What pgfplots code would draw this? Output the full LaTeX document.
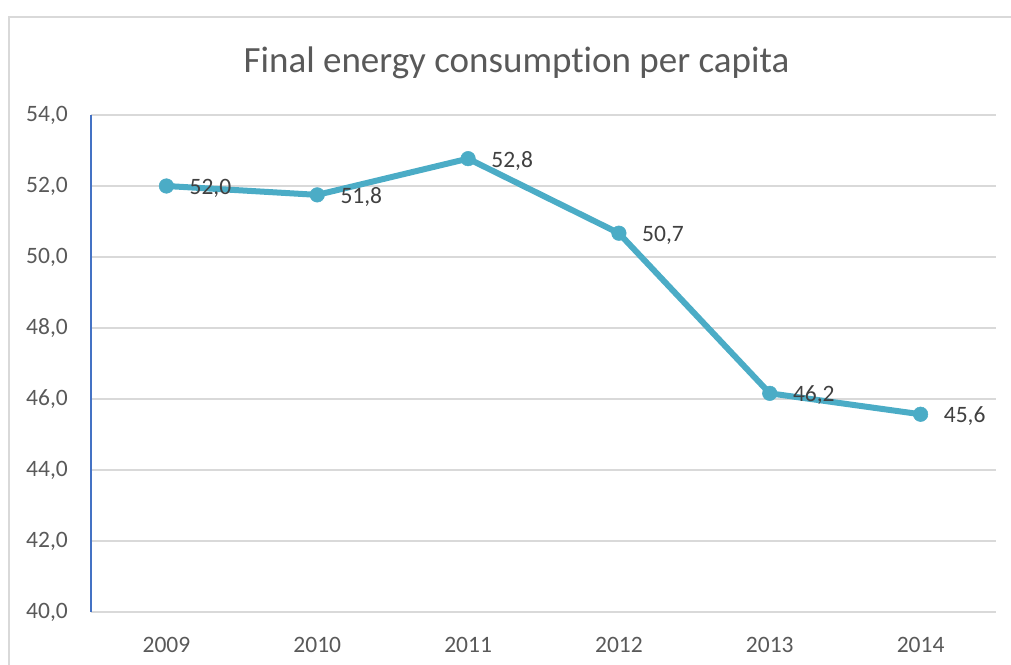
\documentclass[border=0pt]{standalone}
\usepackage{pgfplots}
\pgfplotsset{compat=1.18}
\usepackage{fontspec}
\setmainfont{Carlito}[Ligatures=CommonOff]
\definecolor{lineblue}{HTML}{4BACC6}
\definecolor{gridgray}{HTML}{D9D9D9}
\definecolor{axblue}{HTML}{4472C4}
\definecolor{ticktext}{HTML}{595959}
\definecolor{labeltext}{HTML}{404040}
\begin{document}
\begin{tikzpicture}[x=1pt,y=1pt]
\useasboundingbox (0,0) rectangle (1011,664);
\draw[gridgray, line width=1.3pt] (9,-20) rectangle (1030,647);
\node[anchor=base, font=\fontsize{37}{44}\selectfont, text=ticktext, inner sep=0pt] at (516.5,591.3) {Final energy consumption per capita};
\begin{axis}[
  at={(91pt,52pt)}, anchor=south west,
  width=905pt, height=497pt, scale only axis,
  xmin=-0.5, xmax=5.5, ymin=40, ymax=54,
  xtick={0,1,2,3,4,5}, xticklabels={2009,2010,2011,2012,2013,2014},
  ytick={40,42,44,46,48,50,52,54},
  ymajorgrids, grid style={gridgray, line width=1.3pt},
  major tick length=0pt,
  separate axis lines,
  axis x line*=bottom, axis y line*=left,
  x axis line style={draw=none},
  y axis line style={axblue, line width=1.3pt},
  tick label style={font=\fontsize{23.5}{28}\selectfont, text=ticktext},
  yticklabel style={anchor=east, inner sep=0pt, xshift=-23pt,
    /pgf/number format/.cd, fixed, fixed zerofill, precision=1, use comma, assume math mode=true},
  xticklabel style={anchor=base, inner sep=0pt, yshift=-40pt},
  clip=false,
]
\addplot[lineblue, line width=6pt, mark=*, mark size=7.3pt,
  mark options={solid, fill=lineblue, draw=lineblue, line width=0.5pt},
  nodes near coords, point meta=explicit symbolic,
  every node near coord/.append style={anchor=base west, xshift=23pt, yshift=-8.5pt, inner sep=0pt,
    font=\fontsize{23.5}{28}\selectfont, text=labeltext}]
  table[meta=label] {
x y label
0 52.00 52,0
1 51.75 51,8
2 52.77 52,8
3 50.67 50,7
4 46.16 46,2
5 45.57 45,6
};
\end{axis}
\end{tikzpicture}
\end{document}
